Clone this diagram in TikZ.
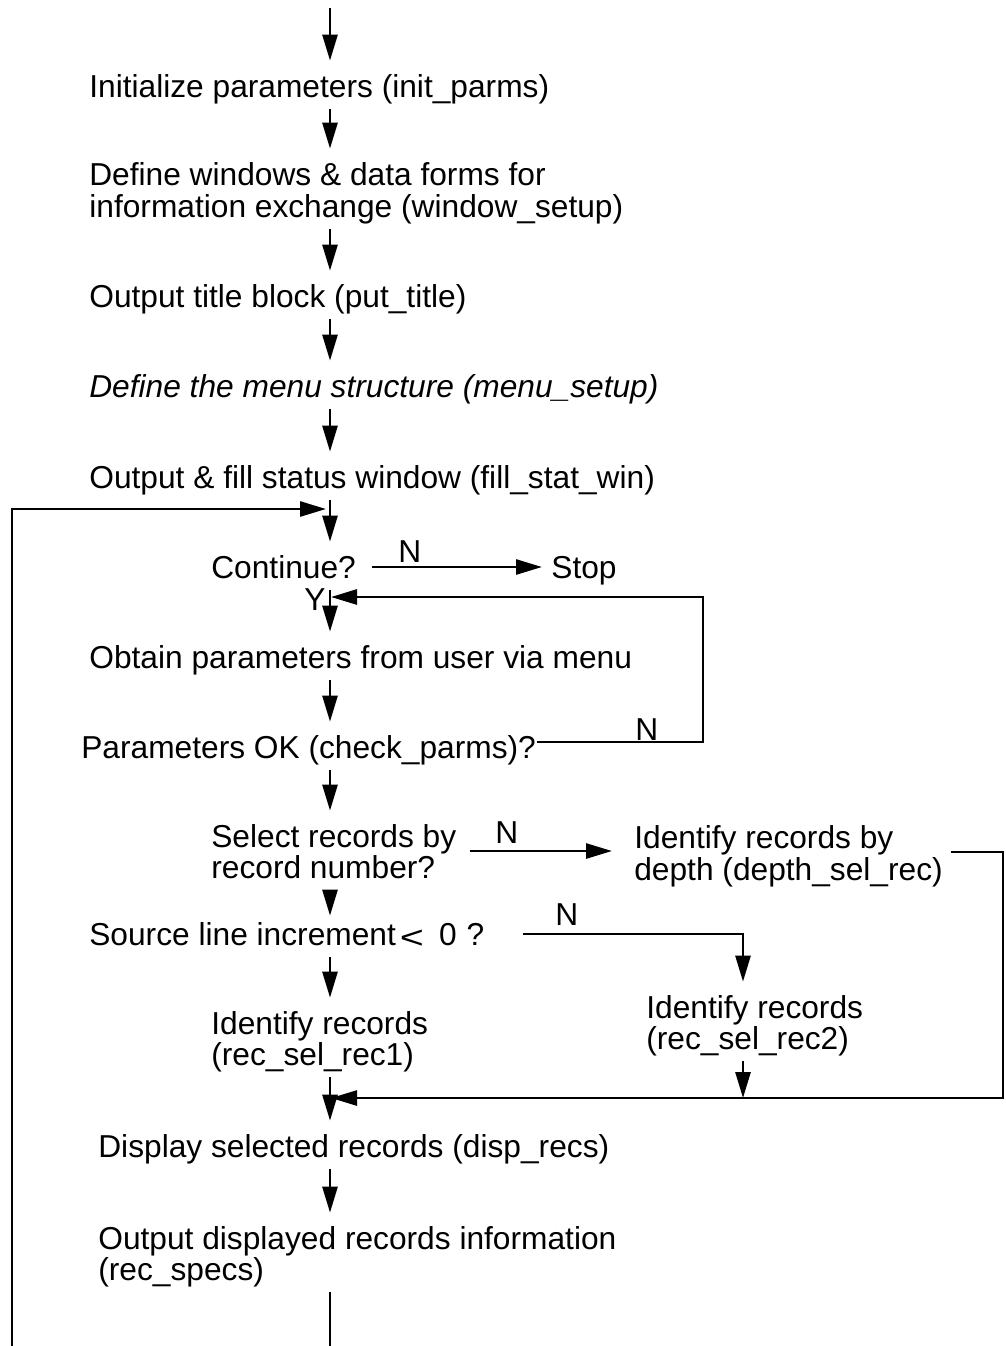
\documentclass[tikz,border=0pt]{standalone}
\usepackage{fontspec}
\usepackage{graphicx}
\setmainfont{Liberation Sans}
\usetikzlibrary{arrows.meta}
\begin{document}
\begin{tikzpicture}[x=1pt,y=-1pt,
  line width=2.7pt,
  every node/.style={font=\fontsize{31.7}{32}\selectfont},
  txt/.style={anchor=base west, inner xsep=0pt, inner ysep=9pt,
              text height=24pt, text depth=2pt},
  lbl/.style={anchor=base west, inner sep=0pt},
  arr/.style={-{Triangle[length=26pt,width=15pt]}, shorten >=2pt}
]
\useasboundingbox (0,0) rectangle (1006,1346);

% reference coordinates for the main spine and the loop lines
\coordinate (spine) at (330,0);
\coordinate (xR) at (743,0);
\coordinate (top) at (330,8);
\coordinate (jTop) at (326,509);
\coordinate (jY) at (331,597);
\coordinate (jRec) at (331,1098);
\coordinate (botL) at (12,1346);
\coordinate (botR) at (330,1346);

% process steps
\node[txt] (init)  at (88,97)  {Initialize parameters (init\_parms)};
\node[txt] (win1)  at (88,185) {Define windows \& data forms for};
\node[txt] (win2)  at (88,217) {information exchange (window\_setup)};
\node[txt] (title) at (88,307) {Output title block (put\_title)};
\node[txt] (menu)  at (88,397) {\itshape Define the menu structure (menu\_setup)};
\node[txt] (fill)  at (88,488) {Output \& fill status window (fill\_stat\_win)};
\node[txt] (cont)  at (210,578) {Continue?};
\node[txt] (stop)  at (550,578) {Stop};
\node[txt] (obt)   at (88,668) {Obtain parameters from user via menu};
\node[txt] (check) at (80,758) {Parameters OK (check\_parms)?};
\node[txt] (sel1)  at (210,847) {Select records by};
\node[txt] (sel2)  at (210,878) {record number?};
\node[txt] (dep1)  at (633,848) {Identify records by};
\node[txt] (dep2)  at (633,880) {depth (depth\_sel\_rec)};
\node[txt] (src)   at (88,945) {Source line increment\kern4pt\raisebox{-3pt}{\scalebox{1.3}[1.0]{<}}\kern15pt0\kern10pt?};
\node[txt] (reca)  at (210,1034) {Identify records};
\node[txt] (recb)  at (210,1065) {(rec\_sel\_rec1)};
\node[txt] (rec2a) at (645,1018) {Identify records};
\node[txt] (rec2b) at (645,1049) {(rec\_sel\_rec2)};
\node[txt] (disp)  at (97,1157) {Display selected records (disp\_recs)};
\node[txt] (out1)  at (97,1249) {Output displayed records information};
\node[txt] (out2)  at (97,1280) {(rec\_specs)};

% branch labels
\node[lbl] (nC) at (397,562) {N};
\node[lbl] (yC) at (303,610) {Y};
\node[lbl] (nK) at (634,740) {N};
\node[lbl] (nS) at (494,843) {N};
\node[lbl] (nI) at (554,925) {N};

% main flow down the spine
\draw[arr] (top) -- (init.north -| spine);
\draw[arr] (init.south -| spine) -- (win1.north -| spine);
\draw[arr] (win2.south -| spine) -- (title.north -| spine);
\draw[arr] (title.south -| spine) -- (menu.north -| spine);
\draw[arr] (menu.south -| spine) -- (fill.north -| spine);
\draw[arr] (fill.south -| spine) -- (cont.north -| spine);
\draw[arr] (cont.south -| spine) -- (obt.north -| spine);
\draw[arr] (obt.south -| spine) -- (check.north -| spine);
\draw[arr] (check.south -| spine) -- (sel1.north -| spine);
\draw[arr, shorten >=-5pt] (sel2.south -| spine) -- (src.north -| spine);
\draw[arr] (src.south -| spine) -- (reca.north -| spine);
\draw[arr] (recb.south -| spine) -- (disp.north -| spine);
\draw[arr] (disp.south -| spine) -- (out1.north -| spine);
\draw (out2.south -| spine) -- (botR);

% outer loop back to the continue test
\draw[arr, shorten >=0pt] (botL) |- (jTop);

% continue? -> stop
\draw[arr, shorten <=15pt, shorten >=8pt] (cont.east) -- (stop.west);

% parameters rejected: back to the menu
\draw[arr, shorten >=0pt] ([yshift=5pt]check.east) -| (jY -| 703,0) -- (jY);

% select by record number? no -> depth selection
\draw[arr, shorten <=12pt, shorten >=21pt]
  ([yshift=-15pt]sel1.east) -- ([yshift=-15pt]sel1.east -| dep1.west);

% depth selection joins the display step
\draw[arr, shorten >=0pt] ([yshift=17pt,xshift=7pt]dep2.east) -| (1003,1098) -- (jRec);

% negative increment? no -> rec_sel_rec2
\draw[arr, shorten <=37pt] (src.east) -| (rec2a.north -| xR);
\draw[arr, shorten >=0pt] (rec2b.south -| xR) -- (jRec -| xR);

\end{tikzpicture}
\end{document}
